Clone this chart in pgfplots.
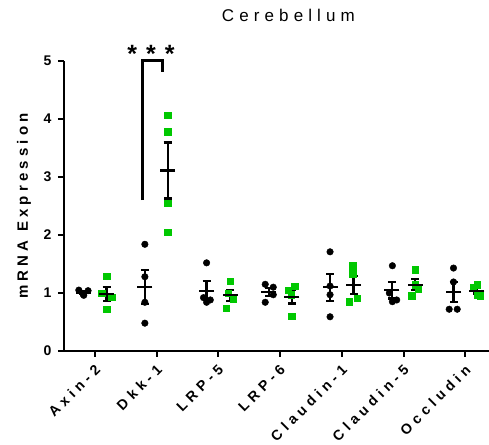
\documentclass[border=0pt]{standalone}
\usepackage{pgfplots}
\pgfplotsset{compat=1.18}
\usepackage{pgfplotstable}
\usepackage{fontspec}
\setmainfont{Liberation Sans}
\newfontfamily\spacedfont[LetterSpace=28]{Liberation Sans}
\newfontfamily\tickfont[LetterSpace=32]{Liberation Sans}
\newfontfamily\titlefont[LetterSpace=30]{Liberation Sans}
\definecolor{kogreen}{RGB}{0,200,0}

% individual samples, control group (black) and knockout group (green)
\pgfplotstableread{
x y
-0.26 1.05
-0.11 1.04
-0.19 0.98
-0.18 0.96
0.81 1.84
0.81 1.28
0.81 0.84
0.81 0.48
1.81 1.52
1.76 0.92
1.87 0.88
1.81 0.84
2.76 1.15
2.89 1.10
2.89 0.97
2.76 0.84
3.81 1.71
3.81 1.12
3.81 0.97
3.81 0.59
4.82 1.47
4.77 1.00
4.82 0.85
4.89 0.88
5.81 1.43
5.81 1.19
5.74 0.72
5.87 0.72
}\ctrlpts

\pgfplotstableread{
x y
0.19 1.29
0.11 1.00
0.27 0.93
0.19 0.72
1.18 4.07
1.18 3.78
1.18 2.55
1.18 2.05
2.19 1.20
2.16 1.00
2.24 0.90
2.13 0.74
3.24 1.12
3.13 1.05
3.18 0.97
3.19 0.60
4.18 1.47
4.18 1.33
4.12 0.85
4.25 0.91
5.19 1.40
5.19 1.14
5.24 1.07
5.13 0.95
6.19 1.14
6.13 1.09
6.24 0.95
6.19 0.97
}\kopts

% group means and SEM
\pgfplotstableread{
x y e
-0.19 1.0075 0.022
0.81 1.11 0.293
1.81 1.04 0.161
2.82 1.015 0.0695
3.81 1.0975 0.233
4.81 1.05 0.144
5.81 1.015 0.177
}\ctrlmean

\pgfplotstableread{
x y e
0.19 0.985 0.118
1.18 3.1125 0.483
2.19 0.96 0.096
3.19 0.935 0.116
4.19 1.14 0.153
5.19 1.14 0.095
6.19 1.0375 0.046
}\komean

\begin{document}
\begin{tikzpicture}
\begin{axis}[name=ax, scale only axis, width=425bp, height=290bp,
  xmin=-0.5, xmax=6.385, ymin=0, ymax=5,
  axis x line=bottom, axis y line=left,
  axis line style={-, line width=2bp},
  tick align=outside, major tick length=6bp,
  tick style={line width=2bp, black},
  xtick={0,...,6},
  xticklabels={Axin-2,Dkk-1,LRP-5,LRP-6,Claudin-1,Claudin-5,Occludin},
  ytick={0,...,5},
  x tick label style={font=\tickfont\bfseries\fontsize{14.2bp}{16bp}\selectfont,
    xshift=-1bp, yshift=-5bp, rotate=45, anchor=north east, inner sep=1bp},
  y tick label style={font=\bfseries\fontsize{14bp}{16bp}\selectfont,
    xshift=-3bp},
  /pgf/number format/assume math mode=true,
  ylabel={mRNA Expression},
  ylabel style={font=\spacedfont\bfseries\fontsize{15bp}{18bp}\selectfont,
    at={(axis description cs:-0.085,0.5)}, anchor=base},
  title={Cerebellum},
  title style={font=\titlefont\fontsize{17bp}{20bp}\selectfont,
    at={(axis description cs:0.528,1)}, anchor=base, yshift=34bp},
  clip=false]

\addplot[only marks, mark=*, mark size=3.3bp, black] table {\ctrlpts};
\addplot[only marks, mark=square*, mark size=3.2bp, kogreen,
  mark options={draw=kogreen, fill=kogreen}] table {\kopts};

\addplot[only marks, mark=-, mark size=7.5bp, black,
  mark options={line width=2.2bp},
  error bars/.cd, y dir=both, y explicit,
  error bar style={line width=2.2bp},
  error mark options={rotate=90, line width=2.2bp, mark size=4bp}]
  table[x=x, y=y, y error=e] {\ctrlmean};
\addplot[only marks, mark=-, mark size=7.5bp, black,
  mark options={line width=2.2bp},
  error bars/.cd, y dir=both, y explicit,
  error bar style={line width=2.2bp},
  error mark options={rotate=90, line width=2.2bp, mark size=4bp}]
  table[x=x, y=y, y error=e] {\komean};

% significance bracket
\addplot[black, line width=3bp, no marks, line join=miter]
  coordinates {(0.778,2.6) (0.778,5.0) (1.10,5.0) (1.10,4.81)};
\node[font=\bfseries\fontsize{25bp}{25bp}\selectfont, anchor=base]
  at (axis cs:0.91,4.97) {*\hspace{9bp}*\hspace{9bp}*};
\end{axis}
\pgfresetboundingbox
\path[use as bounding box] ([xshift=-64bp,yshift=-94bp]ax.south west)
  rectangle ([yshift=61bp]ax.north east);
\end{tikzpicture}
\end{document}
